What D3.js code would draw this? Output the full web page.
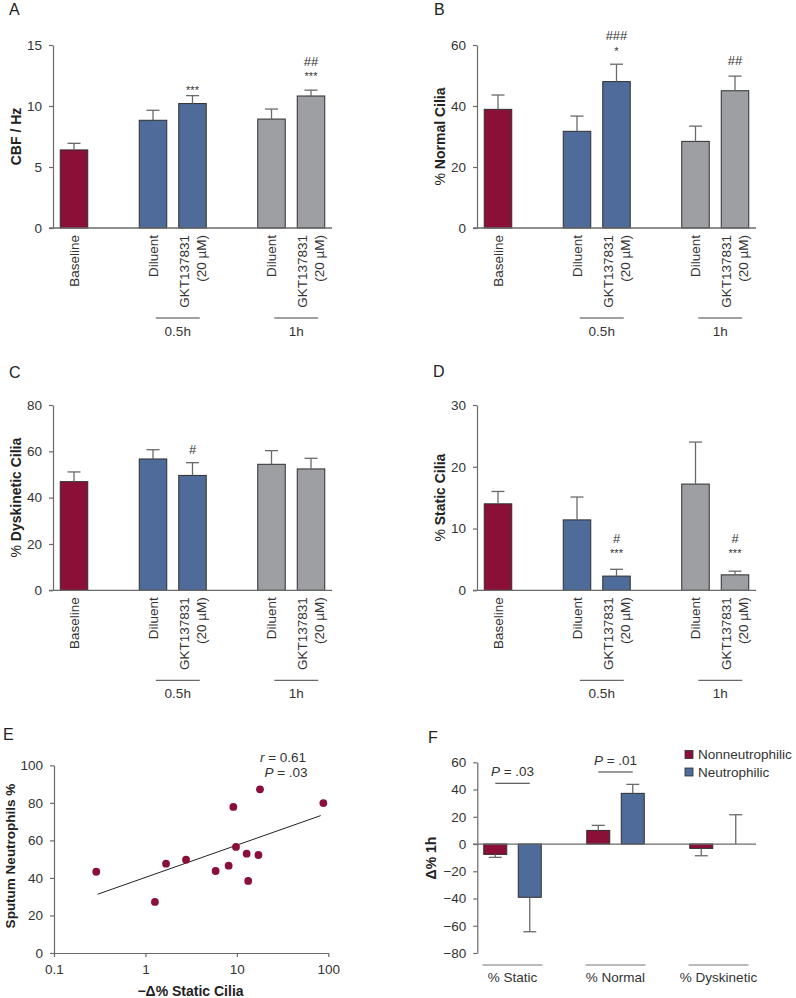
<!DOCTYPE html>
<html><head><meta charset="utf-8">
<script src="https://cdn.jsdelivr.net/npm/d3@7"></script>
<style>
body{margin:0;background:#fff}
svg text{font-family:"Liberation Sans",Arial,Helvetica,sans-serif;fill:#333}
</style>
</head><body><svg id="c" width="796" height="998"></svg>
<script>
// ---------- data ----------
const barLabels = ["Baseline", "Diluent", "GKT137831|(20 µM)", "Diluent", "GKT137831|(20 µM)"];
const barColorKeys = ["base", "t05", "t05", "t1", "t1"];
const timeGroups = ["0.5h", "1h"];

const cbfMean = [6.4, 8.83, 10.2, 8.93, 10.82];
const cbfSem = [0.54, 0.82, 0.65, 0.82, 0.48];
const normalMean = [38.9, 31.7, 48.0, 28.4, 45.0];
const normalSem = [4.7, 5.0, 5.7, 5.0, 4.8];
const dyskMean = [46.9, 56.7, 49.6, 54.4, 52.4];
const dyskSem = [4.2, 4.0, 5.5, 5.9, 4.6];
const staticMean = [14.0, 11.4, 2.3, 17.2, 2.5];
const staticSem = [2.0, 3.7, 1.1, 6.8, 0.6];

const ticksA = [0, 5, 10, 15];
const ticksB = [0, 20, 40, 60];
const ticksC = [0, 20, 40, 60, 80];
const ticksD = [0, 10, 20, 30];

// significance marks: bar index, text, height in axis units
const marksA = [{bar: 2, text: "***", v: 11.48}, {bar: 4, text: "***", v: 12.62}, {bar: 4, text: "##", v: 13.69}];
const marksB = [{bar: 2, text: "*", v: 58.7}, {bar: 2, text: "###", v: 63.3}, {bar: 4, text: "##", v: 55.1}];
const marksC = [{bar: 2, text: "#", v: 61.0}];
const marksD = [{bar: 2, text: "#", v: 8.47}, {bar: 2, text: "***", v: 6.36}, {bar: 4, text: "#", v: 8.47}, {bar: 4, text: "***", v: 6.36}];

// panel E
const staticDrop = [0.29, 1.27, 1.68, 2.78, 5.86, 8.13, 9.15, 9.78, 12.8, 13.3, 17.2, 17.9, 88.3];
const neutrophils = [43.3, 27.2, 47.6, 49.7, 43.7, 46.5, 77.8, 56.5, 52.9, 38.4, 52.2, 87.2, 79.9];
const fitX = [0.3, 82.5];
const fitY = [31.3, 73.2];
const ticksEx = [0.1, 1, 10, 100];
const ticksEy = [0, 20, 40, 60, 80, 100];

// panel F
const fCategories = ["% Static", "% Normal", "% Dyskinetic"];
const fSeries = ["Nonneutrophilic", "Neutrophilic"];
const fNonMean = [-7.6, 10.0, -3.2];
const fNonSem = [2.2, 3.7, 5.4];
const fNeuMean = [-39.1, 37.2, 0];
const fNeuSem = [25.3, 6.6, 21.5];
const fPLabels = ["P = .03", "P = .01"];
const fPLevels = [44.6, 52.9];
const ticksF = [-80, -60, -40, -20, 0, 20, 40, 60];

// ---------- style ----------
const colors = {base: "#8a1038", t05: "#4e6b9a", t1: "#9d9fa3"};
const axisCol = "#6a6a6a";
const svg = d3.select("#c");
svg.append("rect").attr("width", 796).attr("height", 998).attr("fill", "#fff");

function letter(x, y, t) {
  svg.append("text").attr("x", x).attr("y", y).attr("font-size", 16).style("fill", "#222").text(t);
}
function yLabel(x, y, t, fs) {
  const tx = svg.append("text").attr("transform", `translate(${x},${y}) rotate(-90)`)
    .attr("text-anchor", "middle").attr("dy", "0.35em").attr("font-size", fs || 14)
    .attr("font-weight", "bold").style("fill", "#222");
  return tx;
}
function styleAxis(g) {
  g.attr("color", axisCol);
  g.selectAll("path.domain").attr("stroke", axisCol).attr("stroke-width", 1.2);
  g.selectAll(".tick line").attr("stroke", axisCol).attr("stroke-width", 1.2);
  g.selectAll("text").attr("font-size", 13.5).style("fill", "#333")
    .style("font-family", '"Liberation Sans",Arial,sans-serif');
}

function barPanel(o) {
  const ax = o.ax;
  const y = d3.scaleLinear().domain([0, o.max]).range([o.y0, o.yTop]);
  const slotOf = [0, 2, 3, 5, 6];
  const x = d3.scalePoint().domain(d3.range(7)).range([ax + 21, ax + 21 + 6 * 39.5]);
  const bw = 27.5;
  const g = svg.append("g");
  // y axis
  const ya = g.append("g").attr("transform", `translate(${ax},0)`)
    .call(d3.axisLeft(y).tickValues(o.ticks).tickSize(4).tickSizeOuter(0).tickPadding(7));
  styleAxis(ya);
  // bars
  o.mean.forEach((m, i) => {
    const cx = x(slotOf[i]);
    g.append("rect").attr("x", cx - bw / 2).attr("y", y(m)).attr("width", bw)
      .attr("height", y(0) - y(m)).attr("fill", colors[barColorKeys[i]])
      .attr("stroke", "#2e2e2e").attr("stroke-width", 1);
    const top = y(m + o.sem[i]);
    g.append("line").attr("x1", cx).attr("x2", cx).attr("y1", y(m)).attr("y2", top)
      .attr("stroke", axisCol).attr("stroke-width", 1.3);
    g.append("line").attr("x1", cx - 6.5).attr("x2", cx + 6.5).attr("y1", top).attr("y2", top)
      .attr("stroke", axisCol).attr("stroke-width", 1.3);
    // category label
    const parts = barLabels[i].split("|");
    const t = g.append("text").attr("transform", `translate(${cx},${o.y0 + 7}) rotate(-90)`)
      .attr("text-anchor", "end").attr("font-size", 13.5);
    if (parts.length === 1) {
      t.append("tspan").attr("x", 0).attr("y", 4.7).text(parts[0]);
    } else {
      t.append("tspan").attr("x", 0).attr("y", 4.7 - 8.5).text(parts[0]);
      t.append("tspan").attr("x", 0).attr("y", 4.7 + 8.5).text(parts[1]);
    }
  });
  // baseline axis
  g.append("line").attr("x1", ax - 4).attr("x2", ax + 279).attr("y1", o.y0).attr("y2", o.y0)
    .attr("stroke", axisCol).attr("stroke-width", 1.3);
  // marks
  o.marks.forEach(mk => {
    const cx = x(slotOf[mk.bar]);
    const star = mk.text.indexOf("*") >= 0;
    const fs = star ? 11 : 13;
    g.append("text").attr("x", cx).attr("y", y(mk.v) + (star ? 0.58 : 0.36) * fs)
      .attr("text-anchor", "middle").attr("font-size", fs).text(mk.text);
  });
  // time groups
  timeGroups.forEach((tg, k) => {
    const a = x(slotOf[1 + 2 * k]), b = x(slotOf[2 + 2 * k]);
    const mid = (a + b) / 2;
    g.append("line").attr("x1", mid - 17).attr("x2", mid + 27).attr("y1", o.y0 + 90).attr("y2", o.y0 + 90)
      .attr("stroke", "#444").attr("stroke-width", 1);
    g.append("text").attr("x", mid + 5).attr("y", o.y0 + 103 + 4.7).attr("text-anchor", "middle")
      .attr("font-size", 13.5).text(tg);
  });
  // y label
  const lab = yLabel(o.labX, (o.y0 + o.yTop) / 2, "", 14);
  lab.append("tspan").attr("font-weight", "normal").text("% ");
  if (o.label.startsWith("% ")) lab.append("tspan").text(o.label.slice(2));
  else { lab.selectAll("tspan").remove(); lab.text(o.label); }
}

barPanel({ax: 53, y0: 228, yTop: 45, max: 15, ticks: ticksA, mean: cbfMean, sem: cbfSem, marks: marksA, labX: 16, label: "CBF / Hz"});
barPanel({ax: 477, y0: 228, yTop: 45, max: 60, ticks: ticksB, mean: normalMean, sem: normalSem, marks: marksB, labX: 440, label: "% Normal Cilia"});
barPanel({ax: 53, y0: 590.3, yTop: 405, max: 80, ticks: ticksC, mean: dyskMean, sem: dyskSem, marks: marksC, labX: 16, label: "% Dyskinetic Cilia"});
barPanel({ax: 477, y0: 590.3, yTop: 405, max: 30, ticks: ticksD, mean: staticMean, sem: staticSem, marks: marksD, labX: 440, label: "% Static Cilia"});

letter(9, 15, "A"); letter(434, 15, "B"); letter(9, 378, "C"); letter(433, 377, "D");
letter(3, 740, "E"); letter(428, 743, "F");

// ---------- panel E ----------
(function () {
  const x = d3.scaleLog().domain([0.1, 100]).range([54, 328.3]);
  const y = d3.scaleLinear().domain([0, 100]).range([953, 765.3]);
  const g = svg.append("g");
  const xa = g.append("g").attr("transform", "translate(0,953)")
    .call(d3.axisBottom(x).tickValues(ticksEx).tickFormat(d3.format("~g")).tickSize(4).tickSizeOuter(0).tickPadding(7));
  styleAxis(xa);
  const ya = g.append("g").attr("transform", "translate(54,0)")
    .call(d3.axisLeft(y).tickValues(ticksEy).tickSize(4).tickSizeOuter(0).tickPadding(7));
  styleAxis(ya);
  const line = d3.line().x(d => x(d[0])).y(d => y(d[1]));
  g.append("path").attr("d", line(fitX.map((v, i) => [v, fitY[i]])))
    .attr("fill", "none").attr("stroke", "#222").attr("stroke-width", 1);
  g.selectAll("circle.pt").data(staticDrop.map((v, i) => [v, neutrophils[i]])).enter()
    .append("circle").attr("cx", d => x(d[0])).attr("cy", d => y(d[1])).attr("r", 3.9)
    .attr("fill", colors.base);
  const r = g.append("text").attr("x", 283).attr("y", 761.7).attr("text-anchor", "middle").attr("font-size", 13.5);
  r.append("tspan").attr("font-style", "italic").text("r");
  r.append("tspan").text(" = 0.61");
  const p = g.append("text").attr("x", 286).attr("y", 776.5).attr("text-anchor", "middle").attr("font-size", 13.5);
  p.append("tspan").attr("font-style", "italic").text("P");
  p.append("tspan").text(" = .03");
  g.append("text").attr("x", 190.5).attr("y", 995.5).attr("text-anchor", "middle")
    .attr("font-size", 14).attr("font-weight", "bold").style("fill", "#222").text("−Δ% Static Cilia");
  const lab = yLabel(10, 856, "", 13.5);
  lab.text("Sputum Neutrophils %");
})();

// ---------- panel F ----------
(function () {
  const y = d3.scaleLinear().domain([-80, 60]).range([953, 762.3]);
  const xg = d3.scaleBand().domain(fCategories).range([461, 770]);
  const g = svg.append("g");
  const ya = g.append("g").attr("transform", "translate(477.3,0)")
    .call(d3.axisLeft(y).tickValues(ticksF).tickSize(4).tickSizeOuter(0).tickPadding(7));
  styleAxis(ya);
  const bw = 23;
  const series = [
    {key: "base", mean: fNonMean, sem: fNonSem},
    {key: "t05", mean: fNeuMean, sem: fNeuSem}
  ];
  const subCenters = [];
  fCategories.forEach((c, ci) => {
    const center = xg(c) + xg.bandwidth() / 2;
    const xs = d3.scaleBand().domain(fSeries).range([center - 34.5, center + 34.5]);
    subCenters.push(fSeries.map(s => xs(s) + xs.bandwidth() / 2));
    series.forEach((s, si) => {
      const cx = xs(fSeries[si]) + xs.bandwidth() / 2;
      const m = s.mean[ci];
      if (m !== 0) {
        g.append("rect").attr("x", cx - bw / 2).attr("y", Math.min(y(m), y(0))).attr("width", bw)
          .attr("height", Math.abs(y(m) - y(0))).attr("fill", colors[s.key])
          .attr("stroke", "#2e2e2e").attr("stroke-width", 1);
      }
      const end = m < 0 ? m - s.sem[ci] : m + s.sem[ci];
      g.append("line").attr("x1", cx).attr("x2", cx).attr("y1", y(m)).attr("y2", y(end))
        .attr("stroke", axisCol).attr("stroke-width", 1.3);
      g.append("line").attr("x1", cx - 6.5).attr("x2", cx + 6.5).attr("y1", y(end)).attr("y2", y(end))
        .attr("stroke", axisCol).attr("stroke-width", 1.3);
    });
    g.append("line").attr("x1", center - 30).attr("x2", center + 30).attr("y1", 965).attr("y2", 965)
      .attr("stroke", "#777").attr("stroke-width", 1.2);
    g.append("text").attr("x", center).attr("y", 981.7).attr("text-anchor", "middle")
      .attr("font-size", 13.5).text(c);
  });
  g.append("line").attr("x1", 473).attr("x2", 756).attr("y1", y(0)).attr("y2", y(0))
    .attr("stroke", axisCol).attr("stroke-width", 1.3);
  fPLabels.forEach((pl, i) => {
    const [a, b] = subCenters[i];
    const ly = y(fPLevels[i]);
    g.append("line").attr("x1", a).attr("x2", b).attr("y1", ly).attr("y2", ly)
      .attr("stroke", "#333").attr("stroke-width", 1);
    const t = g.append("text").attr("x", (a + b) / 2).attr("y", ly - 11.6 + 4.7)
      .attr("text-anchor", "middle").attr("font-size", 13.5);
    t.append("tspan").attr("font-style", "italic").text("P");
    t.append("tspan").text(pl.slice(1));
  });
  // legend
  const legKeys = ["base", "t05"];
  fSeries.forEach((s, i) => {
    const cy = 754.5 + i * 17.5;
    g.append("rect").attr("x", 685).attr("y", cy - 4).attr("width", 8).attr("height", 8)
      .attr("fill", colors[legKeys[i]]).attr("stroke", "#2e2e2e").attr("stroke-width", 0.8);
    g.append("text").attr("x", 698).attr("y", cy + 4.7).attr("font-size", 13.5).text(s);
  });
  const lab = yLabel(431, 858, "", 14);
  lab.text("Δ% 1h");
})();
</script>
</body></html>
